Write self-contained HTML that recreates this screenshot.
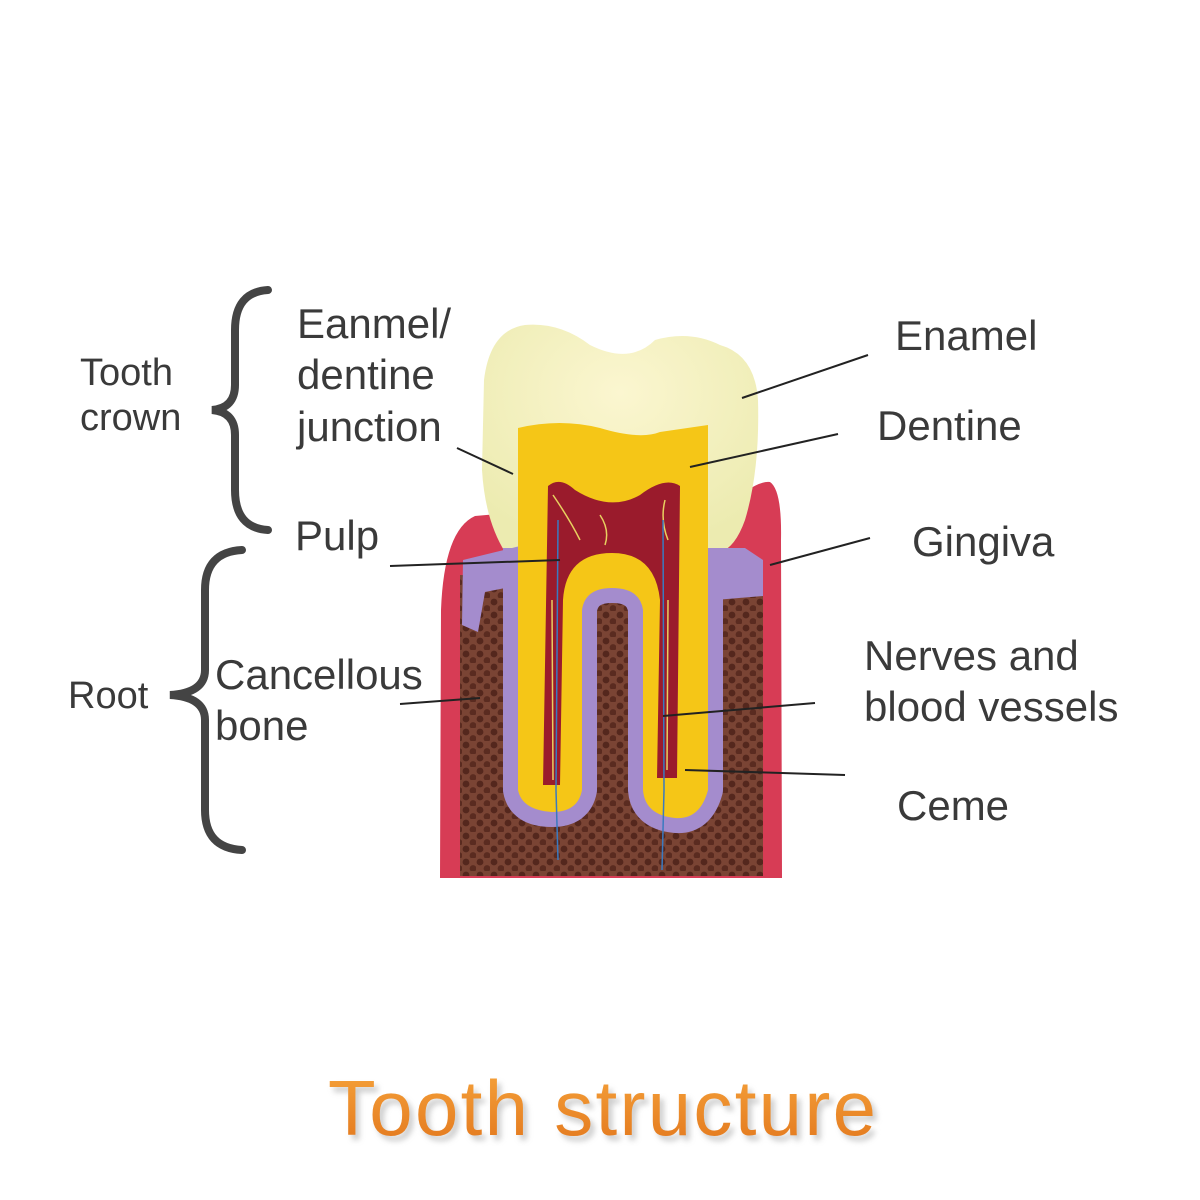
<!DOCTYPE html>
<html><head><meta charset="utf-8"><style>
html,body{margin:0;padding:0;background:#fff}
svg{display:block}
text{font-family:"Liberation Sans",sans-serif;fill:#3a3a3a}
</style></head><body>
<svg width="1200" height="1200" viewBox="0 0 1200 1200" xmlns="http://www.w3.org/2000/svg">
<defs>
<pattern id="bone" width="14" height="13" patternUnits="userSpaceOnUse">
<rect width="14" height="13" fill="#7a4434"/>
<circle cx="4" cy="4" r="3.4" fill="#54271d"/>
<circle cx="11" cy="10.5" r="3.4" fill="#5a2b20"/>
</pattern>
<linearGradient id="tg" x1="0" y1="0" x2="0" y2="1">
<stop offset="0" stop-color="#f6a43c"/><stop offset="1" stop-color="#e2761c"/>
</linearGradient>
<radialGradient id="en" cx="0.5" cy="0.3" r="0.7">
<stop offset="0" stop-color="#fbf6d0"/><stop offset="1" stop-color="#ecebb0"/>
</radialGradient>
<clipPath id="below"><rect x="0" y="548" width="1200" height="652"/></clipPath>
<filter id="sh" x="-10%" y="-10%" width="120%" height="140%"><feGaussianBlur stdDeviation="3"/></filter>
</defs>

<!-- gingiva -->
<path d="M440,878 L441,610 Q444,530 475,516 L520,512 L720,512 Q755,480 770,482 Q782,490 781,540 L782,878 Z" fill="#d73c55"/>
<!-- enamel crown -->
<path d="M484,380 Q490,330 525,325 Q560,322 590,345 Q630,365 655,340 Q690,330 720,345 Q755,355 758,400 Q760,470 745,520 Q735,548 720,552 L505,552 Q485,520 482,470 Z" fill="url(#en)"/>
<!-- bone -->
<path d="M460,575 L763,580 L763,876 L460,876 Z" fill="url(#bone)"/>
<!-- purple cementum -->
<path clip-path="url(#below)" d="M518,428 L518,790 Q522,812 552,812 Q578,812 582,790 L582,610 Q585,588 612,588 Q640,588 643,610 L643,790 Q645,815 675,818 Q700,820 708,790 L708,425" fill="none" stroke="#a48ccd" stroke-width="30" stroke-linejoin="round"/>
<path d="M463,560 L520,546 L520,585 L485,592 L478,632 L462,625 Z" fill="#a48ccd"/>
<path d="M705,548 L745,548 L763,560 L763,596 L715,600 Z" fill="#a48ccd"/>
<!-- dentine -->
<path d="M518,428 Q560,418 600,428 Q640,440 660,432 L708,425 L708,790 Q700,820 675,818 Q645,815 643,790 L643,610 Q640,588 612,588 Q585,588 582,610 L582,790 Q578,812 552,812 Q522,810 518,790 Z" fill="#f5c617"/>
<!-- pulp -->
<path d="M548,486 Q560,476 575,490 Q610,512 640,495 Q665,476 680,486 L677,778 L657,778 L660,600 Q655,553 612,553 Q566,553 563,600 L560,785 L543,785 Z" fill="#9a1b2c"/>
<path d="M553,495 Q570,520 580,540 M600,515 Q610,530 605,545 M665,500 Q660,520 668,540 M552,600 L553,780 M668,600 L667,770" fill="none" stroke="#e8d060" stroke-width="1.5"/>
<path d="M558,520 L556,790 L558,860 M663,520 L664,790 L662,870" fill="none" stroke="#3a7ac0" stroke-width="1.5"/>

<!-- leader lines -->
<g stroke="#222" stroke-width="2" fill="none">
<line x1="868" y1="355" x2="742" y2="398"/>
<line x1="838" y1="434" x2="690" y2="467"/>
<line x1="457" y1="448" x2="513" y2="474"/>
<line x1="390" y1="566" x2="560" y2="560"/>
<line x1="870" y1="538" x2="770" y2="565"/>
<line x1="400" y1="704" x2="480" y2="698"/>
<line x1="815" y1="703" x2="663" y2="716"/>
<line x1="845" y1="775" x2="685" y2="770"/>
</g>
<!-- braces -->
<g stroke="#444" stroke-width="8" fill="none" stroke-linecap="round">
<path d="M268,290 Q235,292 235,330 L235,385 Q235,408 212,410 Q235,412 235,435 L235,490 Q235,528 268,530"/>
<path d="M242,550 Q205,552 205,590 L205,670 Q205,693 170,695 Q205,697 205,720 L205,810 Q205,848 242,850"/>
</g>

<g font-size="42">
<text x="297" y="338">Eanmel/</text>
<text x="297" y="389">dentine</text>
<text x="297" y="441">junction</text>
<text x="295" y="550">Pulp</text>
<text x="215" y="689">Cancellous</text>
<text x="215" y="740">bone</text>
<text x="895" y="350">Enamel</text>
<text x="877" y="440">Dentine</text>
<text x="912" y="556">Gingiva</text>
<text x="864" y="670">Nerves and</text>
<text x="864" y="721">blood vessels</text>
<text x="897" y="820">Ceme</text>
</g>
<g font-size="38">
<text x="80" y="385">Tooth</text>
<text x="80" y="430">crown</text>
<text x="68" y="708">Root</text>
</g>

<text x="332" y="1140" font-size="78" textLength="548" style="fill:#999;opacity:0.5" filter="url(#sh)">Tooth structure</text>
<text x="328" y="1135" font-size="78" textLength="548" style="fill:url(#tg)">Tooth structure</text>
</svg>
</body></html>
